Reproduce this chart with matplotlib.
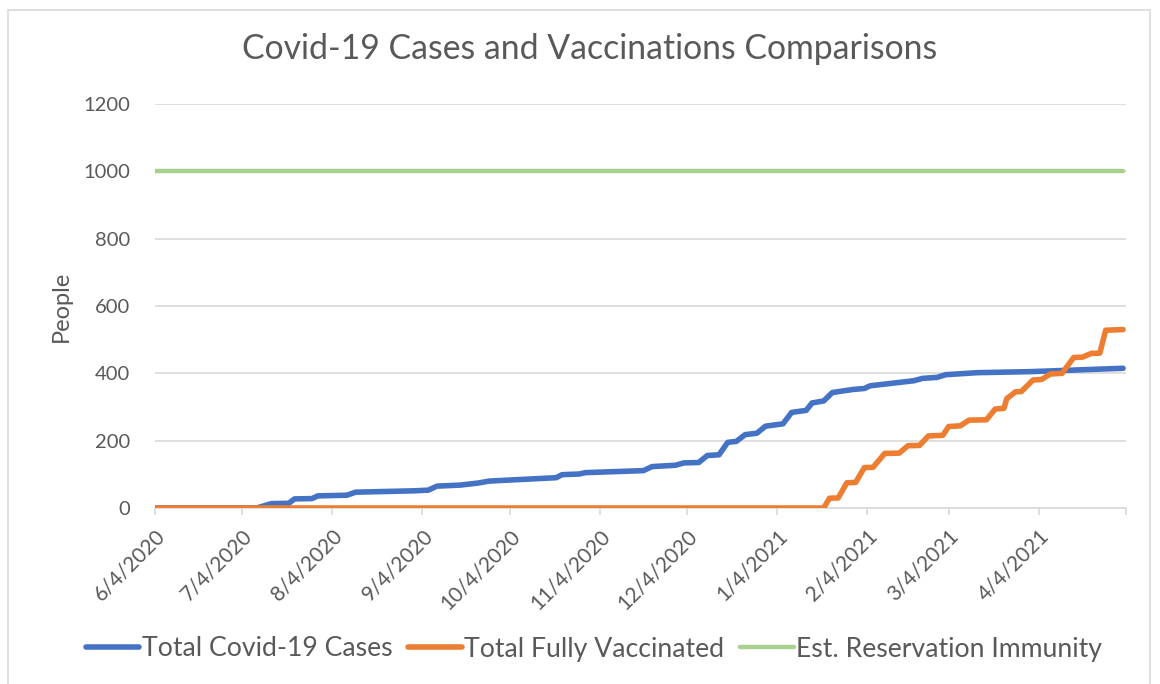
import matplotlib
matplotlib.use("Agg")
import matplotlib.pyplot as plt
import pandas as pd
from matplotlib.patches import Rectangle

plt.rcParams['font.family'] = ['Lato', 'DejaVu Sans']

# data (breakpoints of the daily series)
case_dates = ['2020-06-04', '2020-07-09', '2020-07-14', '2020-07-20', '2020-07-22',
              '2020-07-28', '2020-07-30', '2020-08-09', '2020-08-12', '2020-09-01',
              '2020-09-06', '2020-09-09', '2020-09-17', '2020-09-23', '2020-09-27',
              '2020-10-20', '2020-10-22', '2020-10-28', '2020-10-30', '2020-11-19',
              '2020-11-22', '2020-11-30', '2020-12-03', '2020-12-08', '2020-12-11',
              '2020-12-15', '2020-12-18', '2020-12-21', '2020-12-24', '2020-12-28',
              '2020-12-31', '2021-01-06', '2021-01-09', '2021-01-14', '2021-01-16',
              '2021-01-20', '2021-01-23', '2021-01-30', '2021-02-03', '2021-02-05',
              '2021-02-20', '2021-02-23', '2021-02-28', '2021-03-03', '2021-03-14',
              '2021-04-01', '2021-05-03']
cases = [0, 0, 13, 14, 27,
         28, 36, 38, 47, 51,
         53, 65, 68, 74, 80,
         90, 99, 101, 105, 111,
         123, 127, 134, 135, 156,
         158, 195, 198, 218, 222,
         243, 250, 284, 290, 312,
         318, 343, 352, 355, 363,
         378, 385, 388, 396, 402,
         405, 415]

vacc_dates = ['2020-06-04', '2021-01-20', '2021-01-22', '2021-01-25', '2021-01-28',
              '2021-01-31', '2021-02-03', '2021-02-06', '2021-02-10', '2021-02-15',
              '2021-02-18', '2021-02-22', '2021-02-25', '2021-03-02', '2021-03-04',
              '2021-03-08', '2021-03-11', '2021-03-17', '2021-03-20', '2021-03-23',
              '2021-03-24', '2021-03-27', '2021-03-29', '2021-04-02', '2021-04-05',
              '2021-04-08', '2021-04-12', '2021-04-16', '2021-04-19', '2021-04-22',
              '2021-04-25', '2021-04-27', '2021-05-03']
vaccinated = [0, 0, 29, 30, 75,
              76, 120, 121, 162, 163,
              185, 186, 214, 216, 242,
              244, 261, 262, 294, 296,
              325, 345, 346, 380, 382,
              398, 400, 447, 448, 459,
              460, 528, 530]

immunity_dates = ['2020-06-04', '2021-05-03']
immunity = [1000, 1000]

tick_dates = ['2020-06-04', '2020-07-04', '2020-08-04', '2020-09-04', '2020-10-04',
              '2020-11-04', '2020-12-04', '2021-01-04', '2021-02-04', '2021-03-04',
              '2021-04-04', '2021-05-04']
tick_labels = ['6/4/2020', '7/4/2020', '8/4/2020', '9/4/2020', '10/4/2020',
               '11/4/2020', '12/4/2020', '1/4/2021', '2/4/2021', '3/4/2021',
               '4/4/2021', '']

grey = '#595959'
grid = '#D9D9D9'

fig = plt.figure(figsize=(11.6, 6.84), dpi=100)
ax = fig.add_axes([155/1160, 1 - 508/684, (1126 - 155)/1160, (508 - 104)/684])

ax.plot(pd.to_datetime(case_dates), cases, color='#4472C4', lw=4,
        solid_capstyle='round', solid_joinstyle='round', label='Total Covid-19 Cases', zorder=3)
ax.plot(pd.to_datetime(vacc_dates), vaccinated, color='#ED7D31', lw=4,
        solid_capstyle='round', solid_joinstyle='round', label='Total Fully Vaccinated', zorder=4)
ax.plot(pd.to_datetime(immunity_dates), immunity, color='#A9D18E', lw=3.2,
        solid_capstyle='round', label='Est. Reservation Immunity', zorder=3)

ax.set_xlim(pd.Timestamp(tick_dates[0]), pd.Timestamp(tick_dates[-1]))
ax.set_ylim(0, 1200)
ax.set_yticks(range(0, 1201, 200))
ax.set_xticks(pd.to_datetime(tick_dates))
ax.set_xticklabels(tick_labels, rotation=45, ha='right', rotation_mode='anchor')

ax.grid(axis='y', color=grid, lw=1.2)
ax.set_axisbelow(True)
for s in ['top', 'right', 'left']:
    ax.spines[s].set_visible(False)
ax.spines['bottom'].set_color(grid)
ax.spines['bottom'].set_linewidth(1.2)
ax.spines['bottom'].set_zorder(1)
ax.tick_params(axis='x', colors=grid, length=5, width=1.2, labelcolor=grey, labelsize=15, pad=8)
ax.tick_params(axis='y', length=0, labelcolor=grey, labelsize=14.5, pad=18)

ax.set_ylabel('People', fontsize=17, color=grey, labelpad=8)
fig.text(590/1160, 1 - 49/684, 'Covid-19 Cases and Vaccinations Comparisons',
         ha='center', va='center', fontsize=24.3, color=grey)

fig.legend(loc='center', bbox_to_anchor=(594/1160, 1 - 649/684), ncol=3, frameon=False,
           fontsize=19.2, handlelength=2.0, handletextpad=0.1, columnspacing=0.6,
           labelcolor=grey)

fig.patches.append(Rectangle((8/1160, -0.01), (1150 - 8)/1160, 1 - 10/684 + 0.01,
                             transform=fig.transFigure, fill=False, edgecolor=grid, lw=1.2))

fig.savefig('out.png', dpi=100)
